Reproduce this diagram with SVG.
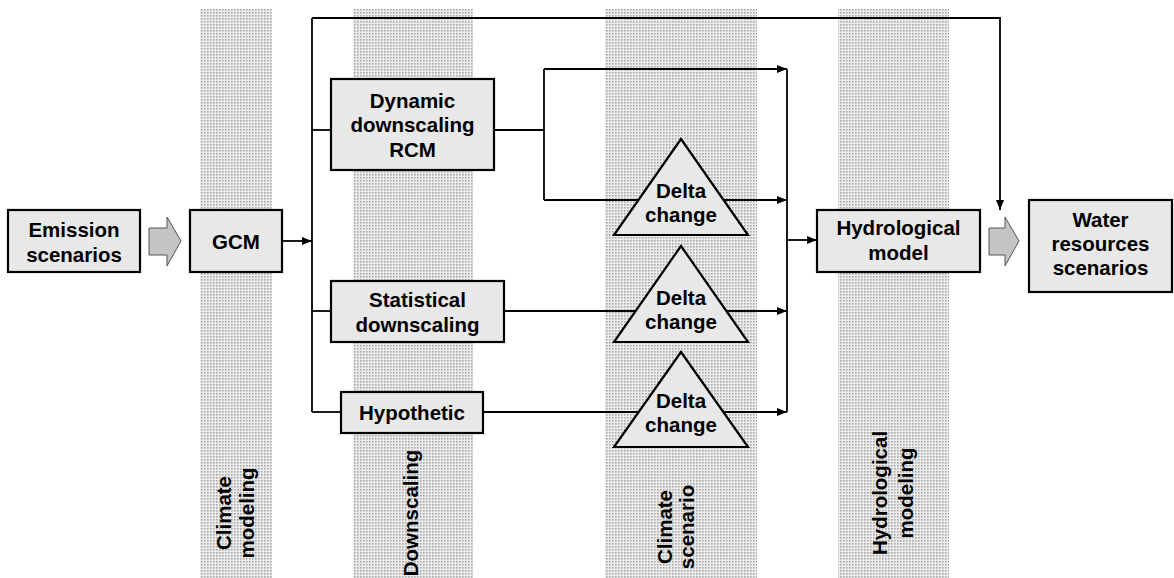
<svg xmlns="http://www.w3.org/2000/svg" width="1174" height="578" viewBox="0 0 1174 578">
<defs>
<pattern id="dots" width="3" height="3" patternUnits="userSpaceOnUse">
<rect width="3" height="3" fill="#ececec"/>
<rect width="1.6" height="1.6" fill="#a8a8a8"/>
</pattern>
<marker id="ah" markerWidth="10" markerHeight="8" refX="10" refY="4" orient="auto" markerUnits="userSpaceOnUse">
<path d="M0,0 L10,4 L0,8 Z" fill="#000"/>
</marker>
<style>
.box{fill:#e8e8e8;stroke:#000;stroke-width:2.2}
.tri{fill:#e8e8e8;stroke:#000;stroke-width:2.2;stroke-linejoin:miter}
.t{font-family:"Liberation Sans",Arial,sans-serif;font-weight:bold;font-size:20.5px;fill:#000;text-anchor:middle}
.c{fill:none;stroke:#000;stroke-width:1.8}
.blk{fill:#c4c4c4;stroke:#555;stroke-width:1}
.band{fill:url(#dots)}
</style>
</defs>
<g id="bands">
<rect class="band" x="200" y="9" width="72" height="569"/>
<rect class="band" x="353" y="9" width="120" height="569"/>
<rect class="band" x="605" y="9" width="152" height="569"/>
<rect class="band" x="838" y="9" width="111" height="569"/>
</g>
<g id="band-labels">
<text class="t" transform="translate(231,513) rotate(-90)">Climate</text>
<text class="t" transform="translate(254,513) rotate(-90)">modeling</text>
<text class="t" transform="translate(418,513) rotate(-90)">Downscaling</text>
<text class="t" transform="translate(672,527) rotate(-90)">Climate</text>
<text class="t" transform="translate(694,527) rotate(-90)">scenario</text>
<text class="t" transform="translate(887,493) rotate(-90)">Hydrological</text>
<text class="t" transform="translate(913,493) rotate(-90)">modeling</text>
</g>
<g id="connectors">
<path class="c" d="M282,241 H312" marker-end="url(#ah)"/>
<path class="c" d="M312,18 V412"/>
<path class="c" d="M312,18 H1000 V210" marker-end="url(#ah)"/>
<path class="c" d="M312,130 H331"/>
<path class="c" d="M312,311 H331"/>
<path class="c" d="M312,412 H341"/>
<path class="c" d="M494,130 H544"/>
<path class="c" d="M544,69 V200"/>
<path class="c" d="M544,69 H787" marker-end="url(#ah)"/>
<path class="c" d="M544,200 H787" marker-end="url(#ah)"/>
<path class="c" d="M504,311 H787" marker-end="url(#ah)"/>
<path class="c" d="M483,412 H787" marker-end="url(#ah)"/>
<path class="c" d="M787,69 V412"/>
<path class="c" d="M787,240 H817" marker-end="url(#ah)"/>
<polygon class="blk" points="149,228 167,228 167,217 181,241 167,266 167,255 149,255"/>
<polygon class="blk" points="989,228 1005,228 1005,217 1019,241 1005,266 1005,255 989,255"/>
</g>
<g id="emission">
<rect class="box" x="8" y="210" width="132" height="62"/>
<text class="t" x="74" y="237">Emission</text>
<text class="t" x="74" y="262">scenarios</text>
</g>
<g id="gcm">
<rect class="box" x="190" y="210" width="92" height="62"/>
<text class="t" x="236" y="249">GCM</text>
</g>
<g id="dynamic">
<rect class="box" x="331" y="79" width="163" height="91"/>
<text class="t" x="412.5" y="108">Dynamic</text>
<text class="t" x="412.5" y="132">downscaling</text>
<text class="t" x="412.5" y="157">RCM</text>
</g>
<g id="statistical">
<rect class="box" x="331" y="281" width="173" height="61"/>
<text class="t" x="417.5" y="307">Statistical</text>
<text class="t" x="417.5" y="332">downscaling</text>
</g>
<g id="hypothetic">
<rect class="box" x="341" y="392" width="142" height="41"/>
<text class="t" x="412" y="420">Hypothetic</text>
</g>
<g id="delta1">
<polygon class="tri" points="681,139 748,235 614,235"/>
<text class="t" x="681" y="198">Delta</text>
<text class="t" x="681" y="222">change</text>
</g>
<g id="delta2">
<polygon class="tri" points="681,246 748,342 614,342"/>
<text class="t" x="681" y="305">Delta</text>
<text class="t" x="681" y="329">change</text>
</g>
<g id="delta3">
<polygon class="tri" points="681,352 748,447 614,447"/>
<text class="t" x="681" y="408">Delta</text>
<text class="t" x="681" y="432">change</text>
</g>
<g id="hydrological">
<rect class="box" x="817" y="210" width="163" height="62"/>
<text class="t" x="898.5" y="235">Hydrological</text>
<text class="t" x="898.5" y="260">model</text>
</g>
<g id="water">
<rect class="box" x="1029" y="200" width="143" height="92"/>
<text class="t" x="1100.5" y="227">Water</text>
<text class="t" x="1100.5" y="251">resources</text>
<text class="t" x="1100.5" y="275">scenarios</text>
</g>
</svg>
